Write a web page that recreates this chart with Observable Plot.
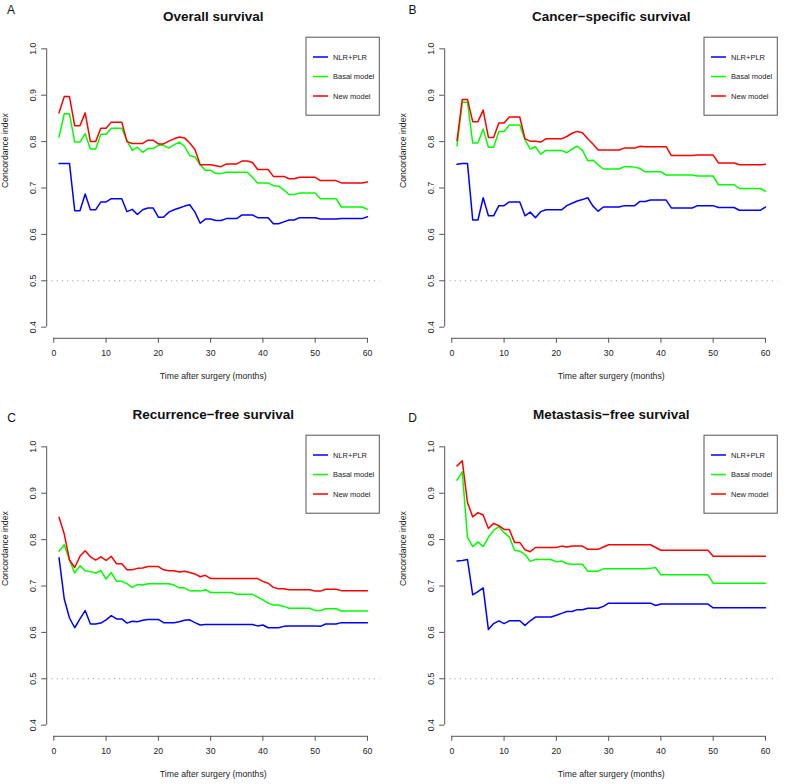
<!DOCTYPE html>
<html>
<head>
<meta charset="utf-8">
<script src="https://cdn.jsdelivr.net/npm/d3@7"></script>
<script src="https://cdn.jsdelivr.net/npm/@observablehq/plot@0.6"></script>
<style>
  html, body { margin: 0; padding: 0; background: #fff; }
  #fig { position: relative; width: 787px; height: 784px; background: #fff; overflow: hidden; }
  .panel { position: absolute; }
  .panel svg { display: block; }
</style>
</head>
<body>
<div id="fig"></div>
<script>
// ---------- data ----------
const months = d3.range(1, 61);
const seriesNames = ["NLR+PLR", "Basal model", "New model"];
const seriesColors = ["#0000FF", "#00FF00", "#FF0000"];
const xTicks = [0, 10, 20, 30, 40, 50, 60];
const yTicks = [0.4, 0.5, 0.6, 0.7, 0.8, 0.9, 1.0];
const panelTitles = ["Overall survival", "Cancer\u2212specific survival", "Recurrence\u2212free survival", "Metastasis\u2212free survival"];
const panelLetters = ["A", "B", "C", "D"];
const xLabel = "Time after surgery (months)";
const yLabel = "Concordance index";

// Panel A: Overall survival
const osNLR = [0.753,0.753,0.753,0.651,0.651,0.687,0.653,0.653,0.670,0.670,
  0.677,0.677,0.677,0.649,0.654,0.643,0.653,0.657,0.657,0.637,
  0.637,0.648,0.653,0.657,0.661,0.664,0.648,0.624,0.633,0.633,
  0.630,0.630,0.634,0.634,0.634,0.642,0.642,0.642,0.636,0.636,
  0.636,0.623,0.623,0.627,0.631,0.631,0.636,0.636,0.636,0.636,
  0.633,0.633,0.633,0.633,0.634,0.634,0.634,0.634,0.634,0.638];
const osBasal = [0.810,0.860,0.860,0.799,0.799,0.817,0.784,0.784,0.816,0.816,
  0.829,0.829,0.829,0.802,0.781,0.788,0.777,0.785,0.785,0.792,
  0.792,0.786,0.793,0.799,0.790,0.770,0.767,0.750,0.738,0.738,
  0.731,0.731,0.734,0.734,0.734,0.734,0.734,0.723,0.711,0.711,
  0.711,0.705,0.704,0.696,0.686,0.686,0.689,0.689,0.689,0.689,
  0.677,0.677,0.677,0.677,0.659,0.659,0.659,0.659,0.659,0.654];
const osNew = [0.862,0.897,0.897,0.834,0.834,0.862,0.800,0.800,0.829,0.829,
  0.842,0.842,0.842,0.800,0.796,0.796,0.796,0.803,0.803,0.795,
  0.795,0.801,0.806,0.810,0.808,0.797,0.783,0.750,0.750,0.750,
  0.748,0.746,0.752,0.752,0.752,0.758,0.758,0.755,0.740,0.740,
  0.740,0.725,0.725,0.725,0.720,0.720,0.723,0.723,0.723,0.723,
  0.716,0.716,0.716,0.716,0.711,0.711,0.711,0.711,0.711,0.713];

// Panel B: Cancer-specific survival
const cssNLR = [0.751,0.753,0.753,0.631,0.631,0.679,0.640,0.640,0.662,0.662,
  0.670,0.670,0.670,0.640,0.648,0.636,0.649,0.653,0.653,0.653,
  0.653,0.662,0.667,0.672,0.675,0.679,0.661,0.650,0.659,0.659,
  0.659,0.659,0.662,0.662,0.662,0.671,0.671,0.674,0.674,0.674,
  0.674,0.657,0.657,0.657,0.657,0.657,0.662,0.662,0.662,0.662,
  0.658,0.658,0.658,0.658,0.652,0.652,0.652,0.652,0.652,0.659];
const cssBasal = [0.791,0.885,0.885,0.797,0.797,0.827,0.788,0.788,0.822,0.822,
  0.836,0.836,0.836,0.804,0.784,0.789,0.773,0.781,0.781,0.781,
  0.781,0.776,0.784,0.790,0.781,0.759,0.760,0.750,0.741,0.741,
  0.741,0.741,0.746,0.746,0.745,0.742,0.735,0.735,0.735,0.735,
  0.728,0.728,0.728,0.728,0.728,0.728,0.726,0.726,0.726,0.726,
  0.707,0.707,0.707,0.707,0.699,0.699,0.699,0.699,0.699,0.693];
const cssNew = [0.802,0.891,0.891,0.843,0.843,0.868,0.809,0.809,0.840,0.840,
  0.853,0.853,0.853,0.806,0.801,0.801,0.799,0.806,0.806,0.806,
  0.806,0.811,0.818,0.822,0.819,0.806,0.795,0.782,0.782,0.782,
  0.782,0.782,0.786,0.786,0.786,0.790,0.789,0.789,0.789,0.789,
  0.789,0.770,0.770,0.770,0.770,0.770,0.771,0.771,0.771,0.771,
  0.754,0.754,0.754,0.754,0.750,0.750,0.750,0.750,0.750,0.751];

// Panel C: Recurrence-free survival
const rfsNLR = [0.761,0.672,0.631,0.610,0.629,0.647,0.618,0.618,0.620,0.627,
  0.636,0.629,0.629,0.620,0.624,0.623,0.626,0.628,0.628,0.628,
  0.621,0.621,0.621,0.623,0.626,0.627,0.621,0.616,0.617,0.617,
  0.617,0.617,0.617,0.617,0.617,0.617,0.617,0.617,0.614,0.616,
  0.610,0.610,0.610,0.613,0.614,0.614,0.614,0.614,0.614,0.614,
  0.613,0.618,0.618,0.618,0.621,0.621,0.621,0.621,0.621,0.621];
const rfsBasal = [0.775,0.789,0.756,0.728,0.744,0.733,0.731,0.728,0.733,0.715,
  0.729,0.710,0.710,0.705,0.697,0.703,0.702,0.705,0.705,0.705,
  0.705,0.705,0.702,0.696,0.696,0.690,0.690,0.689,0.692,0.686,
  0.686,0.686,0.686,0.686,0.682,0.682,0.682,0.682,0.676,0.670,
  0.663,0.659,0.659,0.656,0.652,0.652,0.652,0.652,0.652,0.647,
  0.647,0.651,0.651,0.651,0.646,0.646,0.646,0.646,0.646,0.646];
const rfsNew = [0.848,0.812,0.756,0.740,0.764,0.776,0.763,0.756,0.763,0.755,
  0.764,0.748,0.748,0.735,0.735,0.738,0.739,0.742,0.742,0.742,
  0.735,0.733,0.733,0.730,0.732,0.729,0.726,0.720,0.723,0.716,
  0.716,0.716,0.716,0.716,0.716,0.716,0.716,0.716,0.716,0.710,
  0.706,0.697,0.694,0.694,0.692,0.692,0.692,0.692,0.692,0.689,
  0.689,0.693,0.693,0.693,0.690,0.690,0.690,0.690,0.690,0.690];

// Panel D: Metastasis-free survival
const mfsNLR = [0.754,0.755,0.757,0.681,0.688,0.696,0.606,0.619,0.625,0.619,
  0.625,0.625,0.625,0.615,0.625,0.633,0.633,0.633,0.633,0.637,
  0.641,0.645,0.645,0.649,0.649,0.652,0.652,0.652,0.656,0.663,
  0.663,0.663,0.663,0.663,0.663,0.663,0.663,0.663,0.658,0.661,
  0.661,0.661,0.661,0.661,0.661,0.661,0.661,0.661,0.661,0.653,
  0.653,0.653,0.653,0.653,0.653,0.653,0.653,0.653,0.653,0.653];
const mfsBasal = [0.928,0.946,0.805,0.785,0.795,0.785,0.805,0.820,0.828,0.815,
  0.806,0.777,0.775,0.768,0.753,0.757,0.757,0.757,0.757,0.752,
  0.754,0.748,0.747,0.747,0.747,0.732,0.732,0.732,0.737,0.737,
  0.737,0.737,0.737,0.737,0.737,0.737,0.737,0.738,0.740,0.724,
  0.724,0.724,0.724,0.724,0.724,0.724,0.724,0.724,0.724,0.706,
  0.706,0.706,0.706,0.706,0.706,0.706,0.706,0.706,0.706,0.706];
const mfsNew = [0.959,0.970,0.880,0.849,0.858,0.853,0.824,0.835,0.830,0.822,
  0.822,0.794,0.794,0.778,0.774,0.783,0.783,0.783,0.783,0.783,
  0.786,0.784,0.786,0.786,0.786,0.779,0.779,0.779,0.784,0.789,
  0.789,0.789,0.789,0.789,0.789,0.789,0.789,0.789,0.783,0.777,
  0.777,0.777,0.777,0.777,0.777,0.777,0.777,0.777,0.777,0.764,
  0.764,0.764,0.764,0.764,0.764,0.764,0.764,0.764,0.764,0.764];

const panelSeries = [
  [osNLR, osBasal, osNew],
  [cssNLR, cssBasal, cssNew],
  [rfsNLR, rfsBasal, rfsNew],
  [mfsNLR, mfsBasal, mfsNew]
];

// ---------- layout ----------
const FONT = "'Liberation Sans', Arial, Helvetica, sans-serif";
const W = 389, H = 386;
const mL = 46.2, mR = 9.7, mT = 37.2, mB = 48.2;
const panelPos = [[0, 0], [398, 0], [0, 398], [398, 398]];
const letterPos = [[10.5, 10], [14, 10], [11, 19.5], [14, 19.5]]; // in-panel centers
const xDom = [1 - 59 * 0.04, 60 + 59 * 0.04];
const yDom = [0.4 - 0.6 * 0.04, 1.0 + 0.6 * 0.04];

const fig = document.getElementById("fig");

panelSeries.forEach((series, p) => {
  const rows = [];
  series.forEach((vals, s) => {
    months.forEach((m, i) => rows.push({month: m, value: vals[i], series: seriesNames[s]}));
  });

  const chart = Plot.plot({
    width: W, height: H,
    marginLeft: mL, marginRight: mR, marginTop: mT, marginBottom: mB,
    style: {fontFamily: FONT, fontSize: "8.7px", color: "#222", background: "#fff"},
    x: {domain: xDom},
    y: {domain: yDom},
    color: {domain: seriesNames, range: seriesColors},
    marks: [
      Plot.ruleY([0.5], {stroke: "#a0a0a0", strokeWidth: 1.1, strokeDasharray: "1.2,4"}),
      Plot.line(rows, {x: "month", y: "value", z: "series", stroke: "series", strokeWidth: 1.5}),
      Plot.ruleY([yDom[0]], {x1: xTicks[0], x2: xTicks[xTicks.length - 1], stroke: "#555", strokeWidth: 1}),
      Plot.ruleX([xDom[0]], {y1: yTicks[0], y2: yTicks[yTicks.length - 1], stroke: "#555", strokeWidth: 1}),
      Plot.axisX({ticks: xTicks, tickSize: 5, tickPadding: 7, label: null, stroke: "#555", tickFormat: d3.format("d")}),
      Plot.axisY({ticks: yTicks, tickSize: 5, tickPadding: 6, tickRotate: -90, label: null, stroke: "#555", tickFormat: d3.format(".1f")}),
      Plot.text([panelTitles[p]], {text: d => d, frameAnchor: "top", dy: -21.35, fontSize: 13.5, fontWeight: "bold", fill: "#111", lineAnchor: "middle"}),
      Plot.text([xLabel], {text: d => d, frameAnchor: "bottom", dy: 37.5, fontSize: 8.7, fill: "#222", lineAnchor: "middle"}),
      Plot.text([yLabel], {text: d => d, frameAnchor: "left", dx: 4.5 - mL, rotate: -90, fontSize: 8.7, fill: "#222", lineAnchor: "middle"}),
      Plot.text([panelLetters[p]], {text: d => d, frameAnchor: "top-left", dx: letterPos[p][0] - mL, dy: letterPos[p][1] - mT, fontSize: 12, fill: "#111", textAnchor: "middle", lineAnchor: "middle"})
    ]
  });

  // legend (top-right inside plot region)
  const svg = d3.select(chart);
  const right = W - mR, top = mT;
  const lg = svg.append("g").attr("font-family", FONT).attr("font-size", 7.5).attr("text-anchor", "start");
  lg.append("rect")
    .attr("x", right - 73.3).attr("y", top)
    .attr("width", 73.3).attr("height", 78)
    .attr("fill", "#fff").attr("stroke", "#555").attr("stroke-width", 1);
  seriesNames.forEach((name, i) => {
    const yy = top + 19.8 + i * 19.5;
    lg.append("line")
      .attr("x1", right - 66.3).attr("x2", right - 51.3)
      .attr("y1", yy).attr("y2", yy)
      .attr("stroke", seriesColors[i]).attr("stroke-width", 1.5);
    lg.append("text")
      .attr("x", right - 46.3).attr("y", yy).attr("dy", "0.35em")
      .attr("text-anchor", "start")
      .attr("fill", "#222").text(name);
  });

  const div = document.createElement("div");
  div.className = "panel";
  div.style.left = panelPos[p][0] + "px";
  div.style.top = panelPos[p][1] + "px";
  div.appendChild(chart);
  fig.appendChild(div);
});
</script>
</body>
</html>
